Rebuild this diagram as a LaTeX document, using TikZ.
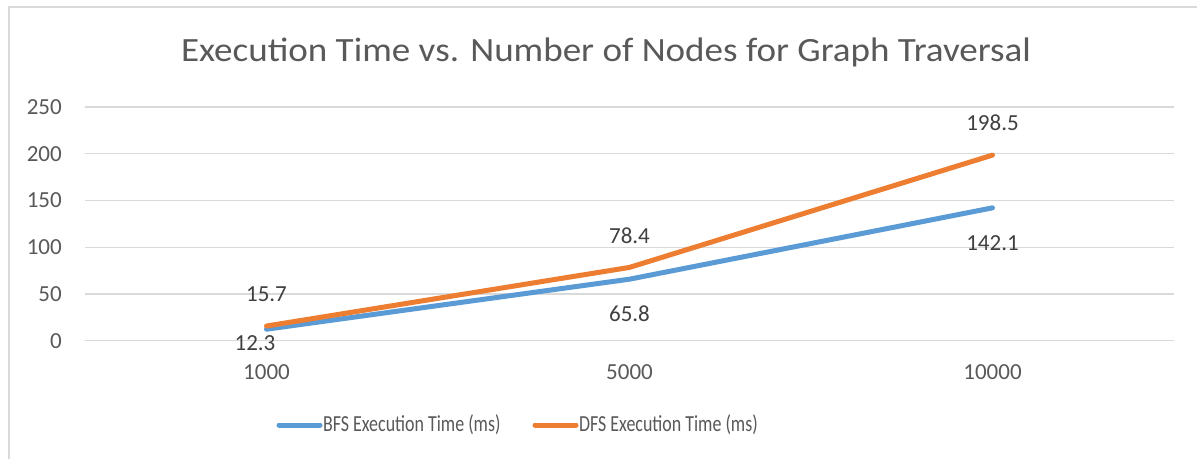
\documentclass[tikz,border=0pt]{standalone}
\usepackage{fontspec}
\setmainfont{Carlito}
\definecolor{txt}{HTML}{595959}
\definecolor{dlab}{HTML}{404040}
\definecolor{grid}{HTML}{D9D9D9}
\definecolor{bfs}{HTML}{5B9BD5}
\definecolor{dfs}{HTML}{ED7D31}
\begin{document}
\begin{tikzpicture}[x=1pt,y=-1pt,
  gridline/.style={draw=grid,line width=1.3pt},
  ticklab/.style={text=txt,font=\fontsize{23}{25}\selectfont,anchor=east,inner sep=0pt},
  catlab/.style={text=txt,font=\fontsize{23}{25}\selectfont,inner sep=0pt},
  datalab/.style={text=dlab,font=\fontsize{23}{25}\selectfont,inner sep=0pt},
  series/.style={line width=5pt,line cap=round,line join=round},
  legtext/.style={text=txt,font=\fontsize{23}{25}\selectfont,anchor=west,inner sep=0pt,xscale=0.78}]
\useasboundingbox (0,0) rectangle (1197,459);
\fill[white] (0,0) rectangle (1197,459);
\draw[draw=grid,line width=1.3pt] (9,459) -- (9,7) -- (1197,7);
% title
\node[text=txt,font=\fontsize{34}{38}\selectfont,inner sep=0pt,xscale=1.09] (title) at (606,52) {Execution Time vs. Number of Nodes for Graph Traversal};
% grid
\foreach \v/\n in {0/g0,50/g50,100/g100,150/g150,200/g200,250/g250}{
  \coordinate (\n l) at (85,{340.7-0.935*\v});
  \coordinate (\n r) at (1174,{340.7-0.935*\v});
  \draw[gridline] (\n l) -- (\n r);
  \node[ticklab] (\n t) at (62,{340.7-0.935*\v}) {\v};
}
% categories
\node[catlab] (c1) at (266.5,372) {1000};
\node[catlab] (c2) at (629.5,372) {5000};
\node[catlab] (c3) at (992.5,372) {10000};
% data points
\coordinate (b1) at (266.5,{340.7-0.935*12.3});
\coordinate (b2) at (629.5,{340.7-0.935*65.8});
\coordinate (b3) at (992.5,{340.7-0.935*142.1});
\coordinate (d1) at (266.5,{340.7-0.935*15.7});
\coordinate (d2) at (629.5,{340.7-0.935*78.4});
\coordinate (d3) at (992.5,{340.7-0.935*198.5});
\draw[series,bfs] (b1) -- (b2) -- (b3);
\draw[series,dfs] (d1) -- (d2) -- (d3);
% data labels
\node[datalab] (ld1) at (266.5,294) {15.7};
\node[datalab] (lb1) at (255,343) {12.3};
\node[datalab] (ld2) at (629.5,236) {78.4};
\node[datalab] (lb2) at (629.5,314) {65.8};
\node[datalab] (ld3) at (992.5,123) {198.5};
\node[datalab] (lb3) at (992.5,243) {142.1};
% legend
\coordinate (lb s) at (279,425);
\coordinate (lb e) at (320,425);
\draw[series,bfs] (lb s) -- (lb e);
\node[legtext] (lbt) at (323,425) {BFS Execution Time (ms)};
\coordinate (ld s) at (535,425);
\coordinate (ld e) at (576,425);
\draw[series,dfs] (ld s) -- (ld e);
\node[legtext] (ldt) at (579,425) {DFS Execution Time (ms)};
\end{tikzpicture}
\end{document}
